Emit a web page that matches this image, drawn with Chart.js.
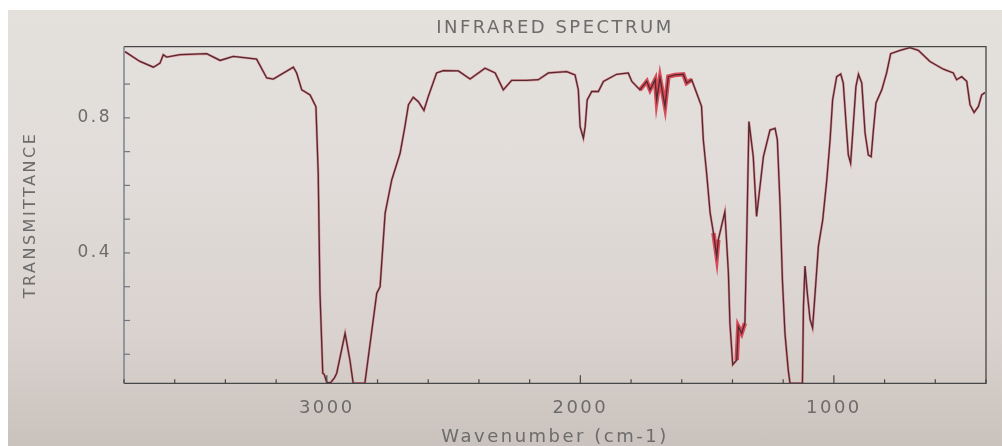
<!DOCTYPE html>
<html>
<head>
<meta charset="utf-8">
<script src="https://cdn.jsdelivr.net/npm/chart.js@4"></script>
<style>
  html, body { margin: 0; padding: 0; background: #ffffff; width: 1002px; height: 446px; overflow: hidden; }
  #bg { position: absolute; left: 8px; top: 10px; right: 0; bottom: 0;
        background: linear-gradient(to bottom, #e4e1dd 0%, #e1dcd9 40%, #d9d2ce 75%, #cac2bc 100%); }
  #wrap { position: absolute; left: 0; top: 0; width: 1002px; height: 446px; }
</style>
</head>
<body>
<div id="bg"></div>
<div id="wrap"><canvas id="c" width="1002" height="446"></canvas></div>
<script>
// ---- data ----
const wavenumbers = [
  3796, 3737, 3684, 3658, 3645, 3632, 3579, 3474, 3421, 3369, 3277, 3237, 3211, 3132, 3119, 3099,
  3066, 3043, 3034, 3027, 3016, 3010, 3000, 2985, 2970, 2961, 2928, 2909, 2896, 2850, 2803, 2790,
  2770, 2744, 2711, 2692, 2678, 2659, 2639, 2617, 2600, 2567, 2540, 2481, 2435, 2376, 2336, 2304,
  2271, 2212, 2166, 2126, 2054, 2021, 2008, 2001, 1988, 1981, 1973, 1955, 1929, 1909, 1857, 1811,
  1797, 1765, 1738, 1725, 1705, 1699, 1686, 1666, 1653, 1627, 1594, 1581, 1561, 1541, 1522, 1515,
  1502, 1488, 1475, 1462, 1456, 1430, 1416, 1410, 1399, 1383, 1377, 1364, 1351, 1344, 1335, 1318,
  1305, 1278, 1252, 1232, 1223, 1212, 1203, 1193, 1180, 1173, 1124, 1120, 1114, 1105, 1094, 1084,
  1074, 1061, 1044, 1028, 1015, 1005, 989, 973, 963, 952, 943, 934, 923, 913, 903, 890,
  877, 864, 853, 844, 834, 811, 792, 776, 739, 700, 667, 621, 568, 529, 516, 496,
  476, 463, 447, 430, 417, 404
];
const transmittance = [
  0.996, 0.967, 0.950, 0.962, 0.987, 0.980, 0.987, 0.990, 0.970, 0.982, 0.974, 0.918, 0.915, 0.950, 0.933, 0.883,
  0.868, 0.833, 0.637, 0.281, 0.044, 0.040, 0.016, 0.016, 0.030, 0.044, 0.162, 0.083, 0.014, 0.014, 0.281, 0.300,
  0.518, 0.616, 0.695, 0.774, 0.839, 0.861, 0.848, 0.822, 0.863, 0.933, 0.940, 0.939, 0.915, 0.947, 0.933, 0.883,
  0.911, 0.911, 0.913, 0.933, 0.937, 0.927, 0.883, 0.774, 0.740, 0.774, 0.853, 0.878, 0.878, 0.908, 0.929, 0.933,
  0.908, 0.883, 0.908, 0.883, 0.913, 0.853, 0.918, 0.834, 0.922, 0.927, 0.929, 0.903, 0.913, 0.873, 0.834, 0.735,
  0.636, 0.518, 0.459, 0.389, 0.439, 0.522, 0.340, 0.192, 0.069, 0.083, 0.182, 0.162, 0.192, 0.439, 0.789, 0.685,
  0.508, 0.685, 0.764, 0.769, 0.735, 0.538, 0.320, 0.162, 0.053, 0.014, 0.014, 0.241, 0.361, 0.282, 0.203, 0.178,
  0.282, 0.420, 0.498, 0.616, 0.735, 0.853, 0.922, 0.930, 0.903, 0.784, 0.690, 0.666, 0.784, 0.893, 0.929, 0.903,
  0.755, 0.690, 0.685, 0.764, 0.844, 0.883, 0.933, 0.990, 1.000, 1.008, 1.000, 0.967, 0.944, 0.933, 0.913, 0.922,
  0.908, 0.839, 0.816, 0.834, 0.868, 0.875
];
// wavenumber ranges where the trace is drawn as a smeared red band
const noisyFrom = [1765, 1475, 1390];
const noisyTo   = [1560, 1450, 1345];
const xTickValues = [3000, 2000, 1000];
const xTickLabels = ['3000', '2000', '1000'];
const yTickValues = [0.4, 0.8];
const yTickLabels = ['0.4', '0.8'];
const titleText = 'INFRARED SPECTRUM';
const xTitleText = 'Wavenumber (cm-1)';
const yTitleText = 'TRANSMITTANCE';

// ---- build ----
const points = wavenumbers.map((w, i) => ({ x: w, y: transmittance[i] }));
const noisyPoints = points.map(p => {
  const inside = noisyFrom.some((f, i) => p.x <= f && p.x >= noisyTo[i]);
  return inside ? p : { x: p.x, y: null };
});
const FONT = '"DejaVu Sans", sans-serif';
const TEXT = '#6c6c6c';

const spacingPlugin = {
  id: 'spacing',
  beforeLayout(chart) { chart.ctx.letterSpacing = '2.5px'; },
  beforeDraw(chart) { chart.ctx.letterSpacing = '2.5px'; }
};

const framePlugin = {
  id: 'frame',
  afterDatasetsDraw(chart) {
    const { ctx, chartArea: a, scales } = chart;
    const xs = scales.x, ys = scales.y;
    ctx.save();
    ctx.lineWidth = 1.3;
    ctx.strokeStyle = '#474747';
    ctx.beginPath();
    ctx.moveTo(a.left, a.top); ctx.lineTo(a.right, a.top);
    ctx.lineTo(a.right, a.bottom); ctx.lineTo(a.left, a.bottom);
    ctx.stroke();
    ctx.strokeStyle = '#6f7585';
    ctx.beginPath();
    ctx.moveTo(a.left, a.top); ctx.lineTo(a.left, a.bottom);
    ctx.stroke();
    ctx.strokeStyle = '#474747';
    ctx.lineWidth = 1.2;
    for (let v = xs.min; v <= xs.max; v += 200) {
      const px = xs.getPixelForValue(v);
      const len = (v % 1000 === 0) ? 8 : 4;
      ctx.beginPath(); ctx.moveTo(px, a.bottom); ctx.lineTo(px, a.bottom - len); ctx.stroke();
    }
    ctx.strokeStyle = '#6f7585';
    for (let k = 1; k <= 9; k++) {
      const py = ys.getPixelForValue(k / 10);
      ctx.beginPath(); ctx.moveTo(a.left, py); ctx.lineTo(a.left + 6, py); ctx.stroke();
    }
    ctx.restore();
  }
};

new Chart(document.getElementById('c'), {
  type: 'line',
  data: {
    datasets: [
      { data: noisyPoints, borderColor: 'rgba(214,28,44,0.75)', borderWidth: 4.5, pointRadius: 0, tension: 0, spanGaps: false, order: 3 },
      { data: points, borderColor: 'rgba(222,70,86,0.55)', borderWidth: 2.4, pointRadius: 0, tension: 0, order: 2 },
      { data: points, borderColor: '#4f2a30', borderWidth: 1.3, pointRadius: 0, tension: 0, order: 1 }
    ]
  },
  options: {
    responsive: false,
    animation: false,
    devicePixelRatio: 1,
    layout: { padding: { left: 8, top: 10, right: 16, bottom: 0 } },
    plugins: {
      legend: { display: false },
      tooltip: { enabled: false },
      title: {
        display: true, text: titleText, fullSize: false, color: TEXT,
        font: { family: FONT, size: 18, weight: 'normal' },
        padding: { top: 8, bottom: 7 }
      }
    },
    scales: {
      x: {
        type: 'linear', reverse: true, min: 400, max: 3800,
        grid: { display: false, drawTicks: false },
        border: { display: false },
        afterBuildTicks(s) { s.ticks = xTickValues.map(v => ({ value: v })); },
        afterFit(s) { s.height = 62.7; },
        ticks: {
          color: TEXT, padding: 14, maxRotation: 0, autoSkip: false,
          font: { family: FONT, size: 18 },
          callback(v) { const i = xTickValues.indexOf(v); return i >= 0 ? xTickLabels[i] : ''; }
        },
        title: {
          display: true, text: xTitleText, color: TEXT,
          font: { family: FONT, size: 18, lineHeight: 1.0 },
          padding: { top: 0, bottom: 0 }
        }
      },
      y: {
        type: 'linear', min: 0.014, max: 1.011,
        grid: { display: false, drawTicks: false },
        border: { display: false },
        afterBuildTicks(s) { s.ticks = yTickValues.map(v => ({ value: v })); },
        afterFit(s) { s.width = 116; },
        ticks: {
          color: TEXT, padding: 12, autoSkip: false,
          font: { family: FONT, size: 17 },
          callback(v) { const i = yTickValues.indexOf(v); return i >= 0 ? yTickLabels[i] : ''; }
        },
        title: {
          display: true, text: yTitleText, color: TEXT,
          font: { family: FONT, size: 16 },
          padding: { top: 13, bottom: 0 }
        }
      }
    }
  },
  plugins: [spacingPlugin, framePlugin]
});
</script>
</body>
</html>
